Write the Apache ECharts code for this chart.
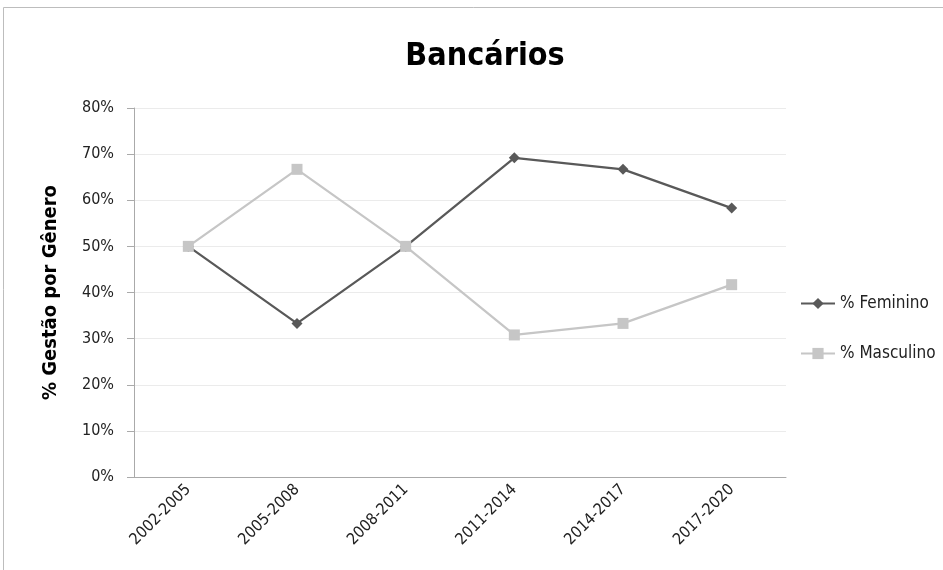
<!DOCTYPE html>
<html><head><meta charset="utf-8">
<script src="https://cdn.jsdelivr.net/npm/echarts@6/dist/echarts.min.js"></script>
<style>html,body{margin:0;padding:0;background:#fff}#c{width:943px;height:570px}</style>
</head><body><div id="c"></div>
<script>
const categories = ['2002-2005','2005-2008','2008-2011','2011-2014','2014-2017','2017-2020'];
const feminino = [50.0, 33.3, 50.0, 69.2, 66.7, 58.3];
const masculino = [50.0, 66.7, 50.0, 30.8, 33.3, 41.7];
const FONT = '"Liberation Sans Narrow","DejaVu Sans Condensed","Roboto Condensed",sans-serif';
const chart = echarts.init(document.getElementById('c'));
chart.setOption({
  animation:false,
  graphic:[{type:'rect',shape:{x:3.5,y:7.5,width:1000,height:1000},style:{fill:'none',stroke:'#bdbdbd',lineWidth:1},silent:true}],
  title:{text:'Bancários',left:480,top:36,textAlign:'center',textStyle:{fontFamily:FONT,fontSize:32,fontWeight:'bold',color:'#000'}},
  grid:{left:134,right:157,top:108,bottom:93,containLabel:false},
  legend:{orient:'vertical',left:795,top:290,itemGap:33,itemWidth:34,itemHeight:14,
    textStyle:{fontFamily:FONT,fontSize:17,color:'#222'},
    data:['% Feminino','% Masculino']},
  xAxis:{type:'category',data:categories,boundaryGap:true,
    axisLine:{lineStyle:{color:'#aaaaaa'}},
    axisTick:{alignWithLabel:true,length:6,lineStyle:{color:'#aaaaaa'}},
    axisLabel:{rotate:45,fontFamily:FONT,fontSize:16,color:'#222',margin:10}},
  yAxis:{type:'value',min:0,max:80,interval:10,
    name:'% Gestão por Gênero',nameLocation:'middle',nameGap:73,nameRotate:90,
    nameTextStyle:{fontFamily:FONT,fontSize:20,fontWeight:'bold',color:'#000'},
    axisLine:{show:true,lineStyle:{color:'#aaaaaa'}},
    axisTick:{show:true,length:7,lineStyle:{color:'#aaaaaa'}},
    splitLine:{lineStyle:{color:'#ebebeb'}},
    axisLabel:{formatter:'{value}%',fontFamily:FONT,fontSize:16,color:'#222',margin:20}},
  series:[
    {name:'% Feminino',type:'line',data:feminino,symbol:'diamond',symbolSize:11,
      lineStyle:{color:'#595959',width:2.25},itemStyle:{color:'#595959'}},
    {name:'% Masculino',type:'line',data:masculino,symbol:'rect',symbolSize:11,
      lineStyle:{color:'#c6c6c6',width:2.25},itemStyle:{color:'#c6c6c6'}}
  ]
});
</script></body></html>
